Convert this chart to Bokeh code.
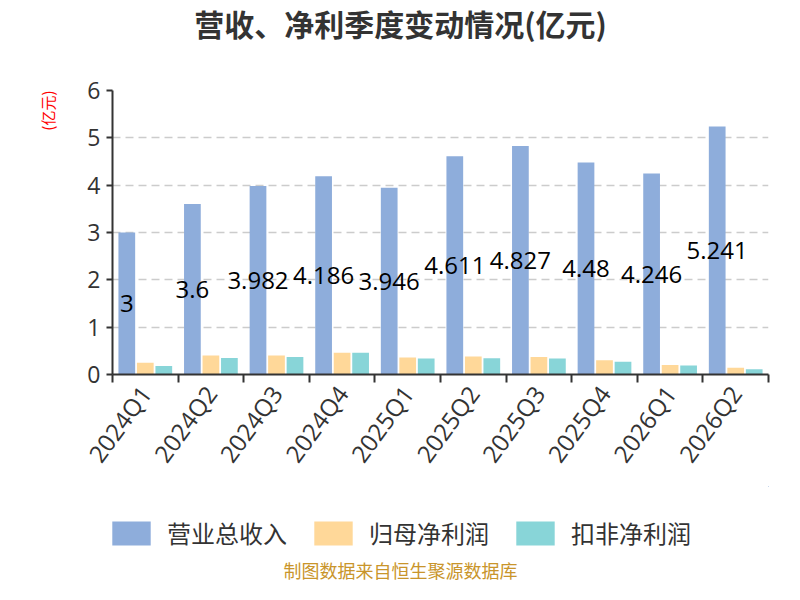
from bokeh.plotting import figure
from bokeh.layouts import column
from bokeh.models import (ColumnDataSource, FixedTicker, Legend, LegendItem,
                          Range1d, LabelSet, Label, Title)
from bokeh.core.properties import value
from bokeh.transform import dodge
from bokeh.embed import file_html
from bokeh.resources import INLINE

quarters = ["2024Q1", "2024Q2", "2024Q3", "2024Q4", "2025Q1",
            "2025Q2", "2025Q3", "2025Q4", "2026Q1", "2026Q2"]
revenue = [3.0, 3.6, 3.982, 4.186, 3.946, 4.611, 4.827, 4.48, 4.246, 5.241]
parent_profit = [0.25, 0.40, 0.40, 0.46, 0.36, 0.38, 0.37, 0.30, 0.20, 0.14]
deducted_profit = [0.18, 0.35, 0.37, 0.46, 0.34, 0.345, 0.34, 0.27, 0.19, 0.11]
series_names = ["营业总收入", "归母净利润", "扣非净利润"]
series_colors = ["#8eaddb", "#ffd899", "#88d5d8"]
y_ticks = [0, 1, 2, 3, 4, 5, 6]
title_text = "营收、净利季度变动情况(亿元)"
unit_text = "(亿元)"
footer_text = "制图数据来自恒生聚源数据库"

FONT = "Noto Sans CJK SC"
W = 784
LEFT = 112
RIGHT = 16
CX = 400 - LEFT  # canvas centre, relative to the aligned frame


def blank_fig(h, xr=(0, 1)):
    f = figure(width=W, height=h, output_backend="svg", toolbar_location=None,
               x_range=Range1d(*xr), y_range=Range1d(0, 1),
               x_axis_type=None, y_axis_type=None, min_border=0,
               min_border_left=LEFT, min_border_right=RIGHT, min_border_top=0,
               min_border_bottom=0)
    f.outline_line_color = None
    f.xgrid.visible = False
    f.ygrid.visible = False
    return f


# ---------- title strip ----------
top = blank_fig(50)
top.add_layout(Label(x=CX, y=28, x_units="screen", y_units="screen", text=title_text,
                     text_align="center", text_baseline="middle", text_font_size="30px",
                     text_font_style="bold", text_color="#333333", text_font=FONT))

# ---------- main chart ----------
idx = list(range(len(quarters)))
src = ColumnDataSource(dict(
    x=idx,
    rev=revenue,
    par=parent_profit,
    ded=deducted_profit,
    rev_mid=[v / 2 for v in revenue],
    rev_txt=[("%g" % v) for v in revenue],
))

p = figure(width=W, height=436, output_backend="svg", toolbar_location=None,
           x_range=Range1d(-0.5, len(quarters) - 0.5), y_range=Range1d(0, 6),
           min_border_left=LEFT, min_border_right=RIGHT, min_border_top=40,
           min_border_bottom=112)
p.outline_line_color = None

off = 0.282
bw = 0.255
p.vbar(x=dodge("x", -off, range=p.x_range), top="rev", width=bw, source=src,
       fill_color=series_colors[0], line_color=None)
p.vbar(x=dodge("x", 0, range=p.x_range), top="par", width=bw, source=src,
       fill_color=series_colors[1], line_color=None)
p.vbar(x=dodge("x", off, range=p.x_range), top="ded", width=bw, source=src,
       fill_color=series_colors[2], line_color=None)

p.add_layout(LabelSet(x=dodge("x", -off, range=p.x_range), y="rev_mid", text="rev_txt",
                      source=src, text_align="center", text_baseline="middle",
                      text_font_size="24px", text_color="#000000",
                      text_font=value("Open Sans")))

xa = p.xaxis[0]
xa.ticker = FixedTicker(ticks=idx, minor_ticks=[i - 0.5 for i in range(len(quarters) + 1)])
xa.major_label_overrides = {i: q for i, q in zip(idx, quarters)}
xa.major_tick_line_color = None
xa.minor_tick_out = 8
xa.minor_tick_in = 0
xa.minor_tick_line_color = "#333333"
xa.minor_tick_line_width = 2
xa.axis_line_color = "#333333"
xa.axis_line_width = 2
xa.major_label_orientation = 0.94
xa.major_label_text_font_size = "24px"
xa.major_label_text_color = "#333333"
xa.major_label_text_font = "Open Sans"
xa.major_label_standoff = 6

ya = p.yaxis[0]
ya.ticker = FixedTicker(ticks=y_ticks)
ya.major_tick_out = 6
ya.major_tick_in = 0
ya.major_tick_line_color = "#333333"
ya.major_tick_line_width = 2
ya.minor_tick_line_color = None
ya.axis_line_color = "#333333"
ya.axis_line_width = 2
ya.major_label_text_font_size = "23px"
ya.major_label_text_color = "#333333"
ya.major_label_text_font = "Open Sans"
ya.major_label_standoff = 6

p.xgrid.grid_line_color = None
p.ygrid.ticker = FixedTicker(ticks=y_ticks[1:])
p.ygrid.grid_line_color = "#cccccc"
p.ygrid.grid_line_width = 1.5
p.ygrid.grid_line_dash = "8 5"

p.add_layout(Title(text=unit_text, align="right", text_font_size="15px",
                   text_font_style="normal", text_color="#ff0000", text_font=FONT,
                   standoff=53), "left")

# ---------- legend + footer strip ----------
# x view range kept away from the category positions, so the legend proxies stay unseen
bot = blank_fig(98, xr=(-3, -2))
series_values = [revenue, parent_profit, deducted_profit]
swatches = []
for c, vals in zip(series_colors, series_values):
    s = ColumnDataSource(dict(x=idx, top=vals))
    swatches.append(bot.vbar(x="x", top="top", bottom="top", width=0.1, source=s,
                             fill_color=c, line_color=None))
legend = Legend(items=[LegendItem(label=n, renderers=[r])
                       for n, r in zip(series_names, swatches)],
                location=(-5, 34), orientation="horizontal",
                glyph_width=48, glyph_height=30, label_standoff=12, spacing=22,
                padding=0, margin=0, border_line_color=None, background_fill_alpha=0,
                label_text_font_size="24px", label_text_color="#333333",
                label_text_font=FONT, label_height=30)
bot.add_layout(legend)
bot.add_layout(Label(x=CX, y=15, x_units="screen", y_units="screen", text=footer_text,
                     text_align="center", text_baseline="middle", text_font_size="18px",
                     text_color="#c9952b", text_font=FONT))

layout = column(top, p, bot, spacing=0)
open("out.html", "w").write(file_html(layout, INLINE))
